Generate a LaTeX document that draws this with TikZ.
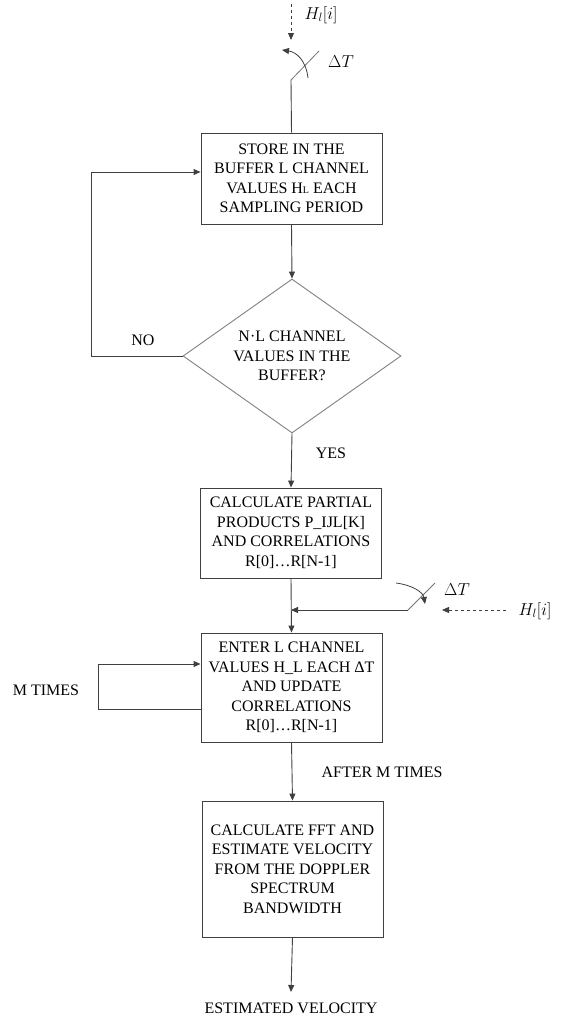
\documentclass[tikz,border=0pt]{standalone}
\usepackage{fontspec}
\setmainfont{Liberation Serif}
\usetikzlibrary{shapes.geometric,arrows.meta}

\begin{document}
\begin{tikzpicture}[x=1pt,y=-1pt,
    font=\fontsize{16}{19.5}\selectfont,
    line/.style={draw=black!75,line width=0.9pt},
    flow/.style={line,-{Triangle[length=7pt,width=6pt]}},
    block/.style={rectangle,draw=black!75,line width=0.9pt,minimum width=181pt,align=center,inner sep=2pt},
    decision/.style={diamond,draw=black!50,line width=0.9pt,aspect=1.4,inner sep=0pt,minimum width=218pt,minimum height=154pt,align=center},
    switch/.style={draw=black!55,line width=0.8pt},
    mathlabel/.style={font=\fontsize{18}{20}\selectfont}]
\useasboundingbox (0,0) rectangle (573,1020);

\node [block,minimum height=91pt] (store) at (291.5,178.5)
    {STORE IN THE\\BUFFER L CHANNEL\\VALUES H{\fontsize{10}{10}\selectfont L} EACH\\SAMPLING PERIOD};
\node [decision] (check) at (292,356)
    {N·L CHANNEL\\VALUES IN THE\\BUFFER?};
\node [block,minimum height=90pt] (partial) at (291,533)
    {CALCULATE PARTIAL\\PRODUCTS P\_IJL[K]\\AND CORRELATIONS\\R[0]…R[N-1]};
\node [block,minimum height=109pt] (enter) at (291.5,687.5)
    {ENTER L CHANNEL\\VALUES H\_L EACH ΔT\\AND UPDATE\\CORRELATIONS\\R[0]…R[N-1]};
\node [block,minimum height=136pt] (fft) at (292.5,869)
    {CALCULATE FFT AND\\ESTIMATE VELOCITY\\FROM THE DOPPLER\\SPECTRUM\\BANDWIDTH};
\node (velocity) at (291,1008) {ESTIMATED VELOCITY};

% labels
\node (no) at (143,340) {NO};
\node (yes) at (331,453) {YES};
\node (mtimes) at (46,690) {M TIMES};
\node (after) at (382,772) {AFTER M TIMES};
\node [mathlabel] (hin1) at (321,15) {$H_l[i]$};
\node [mathlabel] (dt1) at (341,62) {$\Delta T$};
\node [mathlabel] (dt2) at (457,590) {$\Delta T$};
\node [mathlabel] (hin2) at (535,611) {$H_l[i]$};

% input switch at the top
\coordinate (src1) at (291,4);
\coordinate (sw1) at (291,80);
\draw [flow,dashed,line width=0.8pt] (src1) -- (291,40);
\draw [switch] (sw1) -- (319,51);
\draw [flow,line width=0.8pt] (308,78) .. controls (306,60) and (296,52) .. (282,50);
\draw [line] (sw1) -- (store.north);

% main flow
\draw [flow] (store.south) -- (check.north);
\draw [flow] (check.south) -- (partial.north);
\draw [flow] (check.west) -- (91,356) -- (91,172) -- (store.west |- 0,172);
\coordinate (join) at (291,610);
\draw [flow] (partial.south) -- (enter.north);
\draw [flow] (enter.west |- 0,709) -- (98,709) -- (98,664) -- (enter.west |- 0,664);
\draw [flow] (enter.south) -- (fft.north);
\draw [flow] (fft.south) -- (291,992);

% input switch at the side
\coordinate (sw2) at (408,610);
\coordinate (src2) at (506,610);
\draw [flow] (sw2) -- (join);
\draw [switch] (sw2) -- (435,583);
\draw [flow,line width=0.8pt] (396,583) .. controls (412,585) and (423,592) .. (425,604);
\draw [flow,dashed,line width=0.8pt] (src2) -- (442,610);
\end{tikzpicture}
\end{document}
